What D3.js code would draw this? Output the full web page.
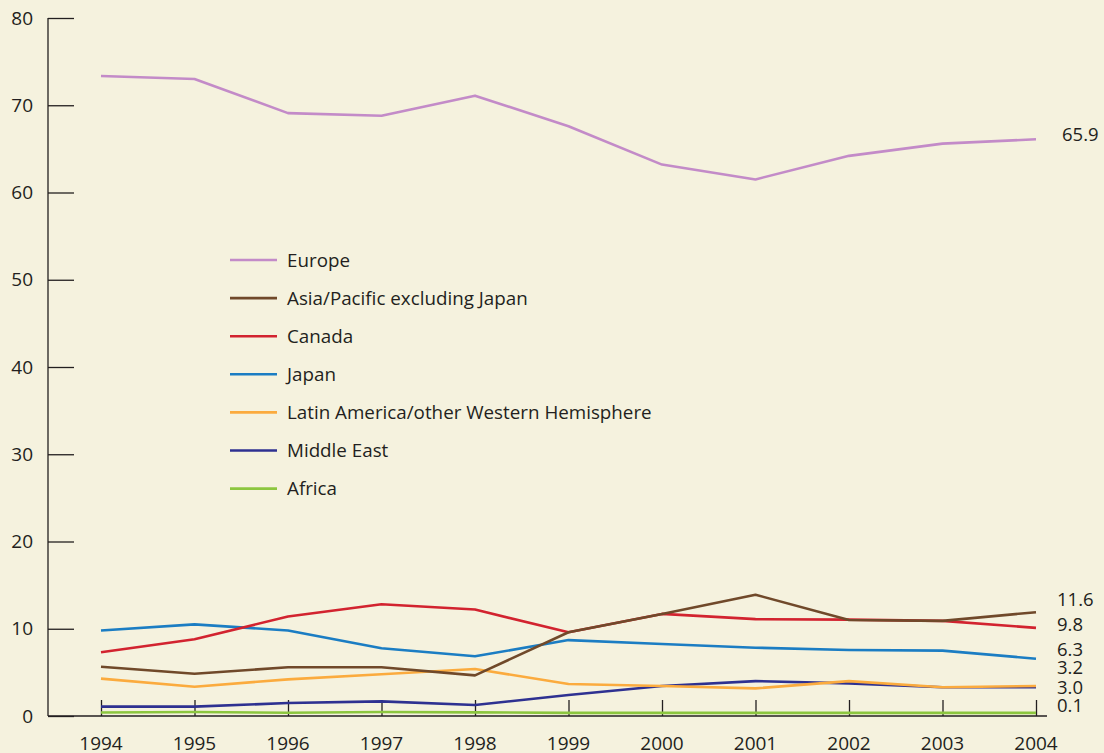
<!DOCTYPE html>
<html><head><meta charset="utf-8">
<script src="https://cdn.jsdelivr.net/npm/d3@7"></script>
<style>
html,body{margin:0;padding:0;background:#f5f2de;}
svg{display:block;}
text{font-family:"Open Sans","Noto Sans",sans-serif;fill:#231f20;}
</style></head><body>
<svg id="c" width="1104" height="753"></svg>
<script>
const years = [1994,1995,1996,1997,1998,1999,2000,2001,2002,2003,2004];
const seriesNames = ["Europe","Asia/Pacific excluding Japan","Canada","Japan","Latin America/other Western Hemisphere","Middle East","Africa"];
const colors = ["#c38bc8","#70492a","#d2232f","#1b7dc3","#fbab3e","#2e3191","#8cc63f"];
const europe = [73.35,73.0,69.1,68.8,71.1,67.6,63.2,61.5,64.2,65.6,66.1];
const asiaPacific = [5.65,4.85,5.58,5.58,4.66,9.6,11.7,13.9,11.0,10.9,11.9];
const canada = [7.3,8.8,11.4,12.8,12.2,9.6,11.7,11.1,11.05,10.9,10.1];
const japan = [9.8,10.5,9.8,7.76,6.84,8.7,8.25,7.83,7.56,7.49,6.57];
const latinAmerica = [4.28,3.36,4.2,4.78,5.39,3.67,3.44,3.17,4.0,3.29,3.44];
const middleEast = [1.07,1.07,1.49,1.68,1.26,2.4,3.44,4.0,3.74,3.29,3.29];
const africa = [0.4,0.45,0.38,0.45,0.42,0.36,0.36,0.36,0.36,0.36,0.36];
const endLabels = ["65.9","11.6","9.8","6.3","3.2","3.0","0.1"];
// label anchor heights (value units) used to stack the end labels
const endLabelAt = [66.7,13.3,10.5,7.6,5.6,3.25,1.15];
const yTicks = [0,10,20,30,40,50,60,70,80];

const allSeries = [europe,asiaPacific,canada,japan,latinAmerica,middleEast,africa];
const svg = d3.select("#c");
const x = d3.scaleLinear().domain([1994,2004]).range([101,1036]);
const y = d3.scaleLinear().domain([0,80]).range([716,18]);

// y axis
const yAxis = d3.axisRight(y).tickValues(yTicks).tickSize(26).tickFormat("");
const gy = svg.append("g").attr("transform","translate(48,0)").call(yAxis);
gy.select(".domain").attr("d","M0,18V716").attr("stroke","#231f20").attr("stroke-width",1.3);
gy.selectAll(".tick line").attr("stroke","#231f20").attr("stroke-width",1.3);
svg.append("g").selectAll("text").data(yTicks).join("text")
  .attr("x",33).attr("y",d=>y(d)).attr("dy","0.35em").attr("text-anchor","end")
  .attr("font-size",19).text(d=>d);

// x axis
const xAxis = d3.axisTop(x).tickValues(years).tickSize(16).tickFormat("");
const gx = svg.append("g").attr("transform","translate(0,716)").call(xAxis);
gx.select(".domain").attr("d","M48,0H1047").attr("stroke","#231f20").attr("stroke-width",1.3);
gx.selectAll(".tick line").attr("stroke","#231f20").attr("stroke-width",1.3);
svg.append("g").selectAll("text").data(years).join("text")
  .attr("x",d=>x(d)).attr("y",743).attr("dy","0.35em").attr("text-anchor","middle")
  .attr("font-size",19).text(d=>d);

// lines
const line = d3.line().x((d,i)=>x(years[i])).y(d=>y(d));
svg.append("g").selectAll("path").data(allSeries.slice().reverse()).join("path")
  .attr("d",line).attr("fill","none")
  .attr("stroke",(d,i)=>colors[colors.length-1-i]).attr("stroke-width",2.6)
  .attr("stroke-linejoin","round");

// end labels
svg.append("g").selectAll("text").data(endLabels).join("text")
  .attr("x",(d,i)=>i===0?1062:1057).attr("y",(d,i)=>y(endLabelAt[i])).attr("dy","0.35em")
  .attr("font-size",18.5)
  .text(d=>d);

// legend
const lg = svg.append("g").attr("transform","translate(230,260)");
const row = lg.selectAll("g").data(seriesNames).join("g").attr("transform",(d,i)=>`translate(0,${i*38.1})`);
row.append("line").attr("x1",0).attr("x2",47).attr("stroke",(d,i)=>colors[i]).attr("stroke-width",2.6);
row.append("text").attr("x",57).attr("dy","0.35em").attr("font-size",18.8).text(d=>d);
</script>
</body></html>
